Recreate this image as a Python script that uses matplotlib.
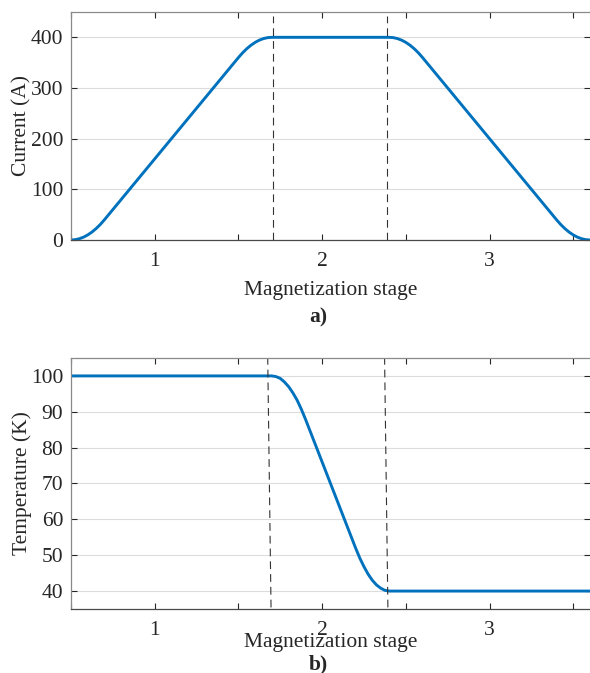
import matplotlib
matplotlib.use('Agg')
import matplotlib.pyplot as plt
from matplotlib.ticker import MultipleLocator

plt.rcParams['font.family'] = ['Liberation Serif', 'DejaVu Serif']
plt.rcParams['font.size'] = 15.5

# values
stage_i = [0.5, 0.525, 0.55, 0.575, 0.6, 0.625, 0.65, 0.675, 0.7, 0.8, 1.0, 1.2, 1.4,
           1.5, 1.525, 1.55, 1.575, 1.6, 1.625, 1.65, 1.675, 1.7,
           2.4, 2.425, 2.45, 2.475, 2.5, 2.525, 2.55, 2.575, 2.6, 2.8, 3.0, 3.2,
           3.4, 3.425, 3.45, 3.475, 3.5, 3.525, 3.55, 3.575, 3.6]
current = [0, 0.6, 2.5, 5.6, 10, 15.6, 22.5, 30.6, 40, 80, 160, 240, 320,
           360, 369.4, 377.5, 384.4, 390, 394.4, 397.5, 399.4, 400,
           400, 399.4, 397.5, 394.4, 390, 384.4, 377.5, 369.4, 360, 280, 200, 120,
           40, 30.6, 22.5, 15.6, 10, 5.6, 2.5, 0.6, 0]

stage_t = [0.5, 1.7, 1.725, 1.75, 1.775, 1.8, 1.825, 1.85, 1.875, 1.9, 1.95, 2.0, 2.1,
           2.15, 2.2, 2.225, 2.25, 2.275, 2.3, 2.325, 2.35, 2.375, 2.4, 3.6]
temperature = [100, 100, 99.8, 99.3, 98.3, 97, 95.3, 93.3, 90.8, 88, 82, 76, 64,
               58, 52, 49.2, 46.8, 44.7, 43, 41.7, 40.8, 40.2, 40, 40]

# stage boundaries (dashed markers)
bounds_a_x = [(1.705, 1.705), (2.387, 2.387)]
bounds_a_y = (0, 443)
bounds_b_x = [(1.675, 1.695), (2.373, 2.393)]
bounds_b_y = (105.3, 35)

blue = '#0072BD'

fig = plt.figure(figsize=(5.9, 6.73), dpi=100)
ax1 = fig.add_axes([0.1203, 0.6434, 0.8797, 0.3388])
ax2 = fig.add_axes([0.1203, 0.0951, 0.8797, 0.3730])


def style(ax):
    ax.set_xlim(0.5, 3.6)
    ax.xaxis.set_major_locator(MultipleLocator(1))
    ax.xaxis.set_minor_locator(MultipleLocator(0.5))
    ax.tick_params(which='both', direction='in', length=4, width=0.8,
                   top=True, right=True, colors='#262626', labelsize=15.5)
    ax.tick_params(axis='y', pad=5.5)
    ax.tick_params(axis='x', pad=8.5)
    ax.grid(axis='y', color='#dcdcdc', lw=0.8)
    ax.set_axisbelow(True)
    ax.spines['right'].set_visible(False)
    ax.spines['left'].set_color('#8a8a8a')
    ax.spines['top'].set_color('#8a8a8a')
    ax.spines['bottom'].set_color('#4a4a4a')
    for s in ax.spines.values():
        s.set_linewidth(0.9)


style(ax1)
ax1.plot(stage_i, current, color=blue, lw=2.1, solid_capstyle='round')
for bx in bounds_a_x:
    ax1.plot(bx, bounds_a_y, color='#333333', lw=0.8, dashes=(7, 4.5))
ax1.set_ylim(0, 450)
ax1.set_yticks([0, 100, 200, 300, 400])
ax1.set_ylabel('Current (A)', color='#262626')
ax1.yaxis.set_label_coords(-0.076, 0.5)
ax1.set_xlabel('Magnetization stage', color='#262626', va='baseline')
ax1.xaxis.set_label_coords(0.5, -0.241)

style(ax2)
ax2.plot(stage_t, temperature, color=blue, lw=2.1, solid_capstyle='round')
for bx in bounds_b_x:
    ax2.plot(bx, bounds_b_y, color='#333333', lw=0.8, dashes=(7, 4.5))
ax2.set_ylim(35, 105)
ax2.set_yticks([40, 50, 60, 70, 80, 90, 100])
ax2.set_ylabel('Temperature (K)', color='#262626')
ax2.yaxis.set_label_coords(-0.076, 0.5)
ax2.set_xlabel('Magnetization stage', color='#262626', va='baseline')
ax2.xaxis.set_label_coords(0.5, -0.151)

fig.text(0.539, 1 - 322 / 673, 'a)', ha='center', va='baseline',
         fontweight='bold', fontsize=15.5, color='#262626')
fig.text(0.539, 1 - 669 / 673, 'b)', ha='center', va='baseline',
         fontweight='bold', fontsize=15.5, color='#262626')

fig.savefig('out.png', dpi=100)
